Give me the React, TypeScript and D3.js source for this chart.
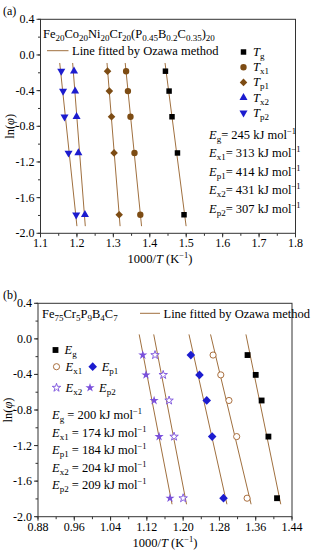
import React from "react";
import * as d3 from "d3";

// ln of heating rate (K/s)
const lnPhi = [-0.182, -0.405, -0.693, -1.099, -1.792];

// panel (a) 1000/T values
const aTg = [1.443, 1.453, 1.461, 1.476, 1.494];
const aTx1 = [1.335, 1.34, 1.347, 1.358, 1.374];
const aTp1 = [1.284, 1.289, 1.295, 1.302, 1.316];
const aTx2 = [1.192, 1.195, 1.199, 1.204, 1.222];
const aTp2 = [1.157, 1.162, 1.166, 1.177, 1.198];
const aEnergies = [245, 313, 414, 431, 307];
const aXTicks = [1.1, 1.2, 1.3, 1.4, 1.5, 1.6, 1.7, 1.8];

// panel (b)
const bEg = [1.342, 1.36, 1.373, 1.388, 1.407];
const bEx1 = [1.266, 1.283, 1.301, 1.318, 1.341];
const bEp1 = [1.217, 1.236, 1.252, 1.264, 1.289];
const bEx2 = [1.138, 1.156, 1.169, 1.18, 1.2];
const bEp2 = [1.111, 1.118, 1.136, 1.147, 1.171];
const bEnergies = [200, 174, 184, 204, 209];
const bXTicks = [0.88, 0.96, 1.04, 1.12, 1.2, 1.28, 1.36, 1.44];

const yTicks = [0.4, 0.0, -0.4, -0.8, -1.2, -1.6, -2.0];
const subs = ["g", "x1", "p1", "x2", "p2"];

const FONT = "'Liberation Serif', 'Times New Roman', serif";
const FIT = "#a0703f";
const BROWN = "#7d4c14";
const BLUE = "#1c1ccf";
const PURPLE = "#7a50dc";

type Mark = { sym: d3.SymbolType; size: number; fill: string; stroke: string; rot?: number; sx?: number };

const fitLine = (xs: number[], ys: number[], y0: number, y1: number) => {
  const mx = d3.mean(xs)!;
  const my = d3.mean(ys)!;
  const b = d3.sum(xs, (x, i) => (x - mx) * (ys[i] - my)) / d3.sum(xs, (x) => (x - mx) ** 2);
  const a = my - b * mx;
  return [
    [(y0 - a) / b, y0],
    [(y1 - a) / b, y1],
  ];
};

const Sym = ({ m, x, y }: { m: Mark; x: number; y: number }) => (
  <path
    d={d3.symbol(m.sym, m.size)()!}
    transform={`translate(${x},${y}) rotate(${m.rot || 0}) scale(${m.sx || 1},1)`}
    fill={m.fill}
    stroke={m.stroke}
    strokeWidth={0.9}
  />
);

const Sub = ({ base, sub, size = 12.5 }: { base: string; sub: string; size?: number }) => (
  <>
    <tspan fontStyle="italic">{base}</tspan>
    <tspan fontSize={size * 0.72} dy={3}>{sub}</tspan>
    <tspan dy={-3}></tspan>
  </>
);

const Energy = ({ x, y, sub, v, gap }: { x: number; y: number; sub: string; v: number; gap: string }) => (
  <text x={x} y={y} fontSize={12.5} fontFamily={FONT}>
    <tspan fontStyle="italic">E</tspan>
    <tspan fontSize={9} dy={3}>{sub}</tspan>
    <tspan dy={-3}>{`${gap}= ${v} kJ mol`}</tspan>
    <tspan fontSize={8.5} dy={-5}>−1</tspan>
  </text>
);

type PanelProps = {
  x0: number; x1: number; y0: number; y1: number;
  xDom: [number, number]; xTicks: number[]; xMinor: number; fmt: (v: number) => string;
  series: number[][]; marks: Mark[]; lineTop: number; lineBot: number;
  labelX: number; labelY: number;
};

const Panel = (p: PanelProps) => {
  const x = d3.scaleLinear().domain(p.xDom).range([p.x0, p.x1]);
  const y = d3.scaleLinear().domain([-2, 0.4]).range([p.y1, p.y0]);
  const minorX = d3.range(p.xDom[0], p.xDom[1] + 1e-9, p.xMinor);
  const minorY = d3.range(-2, 0.4 + 1e-9, 0.2);
  return (
    <g fontFamily={FONT}>
      {minorX.map((t, i) => (
        <line key={"mx" + i} x1={x(t)} x2={x(t)} y1={p.y1} y2={p.y1 + 2.5} stroke="#333" />
      ))}
      {p.xTicks.map((t) => (
        <g key={"x" + t}>
          <line x1={x(t)} x2={x(t)} y1={p.y1} y2={p.y1 + 4} stroke="#333" />
          <text x={x(t)} y={p.y1 + 14} textAnchor="middle" fontSize={12}>{p.fmt(t)}</text>
        </g>
      ))}
      {minorY.map((t, i) => (
        <line key={"my" + i} x1={p.x0 - 2.5} x2={p.x0} y1={y(t)} y2={y(t)} stroke="#333" />
      ))}
      {yTicks.map((t) => (
        <g key={"y" + t}>
          <line x1={p.x0 - 4} x2={p.x0} y1={y(t)} y2={y(t)} stroke="#333" />
          <text x={p.x0 - 6} y={y(t) + 4} textAnchor="end" fontSize={12}>{t.toFixed(1)}</text>
        </g>
      ))}
      <rect x={p.x0} y={p.y0} width={p.x1 - p.x0} height={p.y1 - p.y0} fill="none" stroke="#333" strokeWidth={1} />
      {p.series.map((s, i) => {
        const pts = fitLine(s, lnPhi, p.lineTop, p.lineBot);
        return (
          <line key={"f" + i} x1={x(pts[0][0])} y1={y(pts[0][1])} x2={x(pts[1][0])} y2={y(pts[1][1])} stroke={FIT} strokeWidth={1} />
        );
      })}
      {p.series.map((s, i) =>
        s.map((v, j) => <Sym key={`p${i}-${j}`} m={p.marks[i]} x={x(v)} y={y(lnPhi[j])} />)
      )}
      <text transform={`translate(${p.labelY},${(p.y0 + p.y1) / 2}) rotate(-90)`} textAnchor="middle" fontSize={12.5}>
        ln(<tspan fontStyle="italic">φ</tspan>)
      </text>
      <text x={p.labelX} y={p.y1 + 30} textAnchor="middle" fontSize={12.5}>
        1000/<tspan fontStyle="italic">T</tspan> (K<tspan fontSize={8.5} dy={-5}>−1</tspan><tspan dy={5}>)</tspan>
      </text>
    </g>
  );
};

const aMarks: Mark[] = [
  { sym: d3.symbolSquare, size: 30, fill: "#000", stroke: "none" },
  { sym: d3.symbolCircle, size: 32, fill: BROWN, stroke: "none" },
  { sym: d3.symbolDiamond, size: 17, fill: BROWN, stroke: "none", sx: 1.7 },
  { sym: d3.symbolTriangle, size: 28, fill: BLUE, stroke: "none" },
  { sym: d3.symbolTriangle, size: 28, fill: BLUE, stroke: "none", rot: 180 },
];
const bMarks: Mark[] = [
  { sym: d3.symbolSquare, size: 34, fill: "#000", stroke: "none" },
  { sym: d3.symbolCircle, size: 30, fill: "#fff", stroke: "#a0602a" },
  { sym: d3.symbolDiamond, size: 22, fill: BLUE, stroke: "none", sx: 1.7 },
  { sym: d3.symbolStar, size: 22, fill: "#fff", stroke: PURPLE },
  { sym: d3.symbolStar, size: 26, fill: PURPLE, stroke: "none" },
];

export default function App() {
  return (
    <svg width={311} height={550} style={{ position: "absolute", left: 0, top: 0, background: "#fff" }}>
      <text x={3} y={15} fontSize={12} fontFamily={FONT}>(a)</text>
      <Panel
        x0={40.5} x1={295.5} y0={19.3} y1={233.3}
        xDom={[1.1, 1.8]} xTicks={aXTicks} xMinor={0.05} fmt={(v) => v.toFixed(1)}
        series={[aTg, aTx1, aTp1, aTx2, aTp2]} marks={aMarks} lineTop={-0.09} lineBot={-1.92}
        labelX={160} labelY={14}
      />
      <g fontFamily={FONT}>
        <text x={43} y={37.5} fontSize={12.5}>
          Fe<tspan fontSize={9} dy={3}>20</tspan><tspan dy={-3}>Co</tspan><tspan fontSize={9} dy={3}>20</tspan>
          <tspan dy={-3}>Ni</tspan><tspan fontSize={9} dy={3}>20</tspan><tspan dy={-3}>Cr</tspan>
          <tspan fontSize={9} dy={3}>20</tspan><tspan dy={-3}>(P</tspan><tspan fontSize={9} dy={3}>0.45</tspan>
          <tspan dy={-3}>B</tspan><tspan fontSize={9} dy={3}>0.2</tspan><tspan dy={-3}>C</tspan>
          <tspan fontSize={9} dy={3}>0.35</tspan><tspan dy={-3}>)</tspan><tspan fontSize={9} dy={3}>20</tspan>
        </text>
        <line x1={47} x2={68.5} y1={50.7} y2={50.7} stroke={FIT} />
        <text x={72} y={55} fontSize={12.5}>Line fitted by Ozawa method</text>
        {aMarks.map((m, i) => (
          <g key={"la" + i}>
            <Sym m={m} x={243.5} y={52 + i * 15.2} />
            <text x={253} y={56 + i * 15.2} fontSize={12.5}>
              <Sub base="T" sub={subs[i]} />
            </text>
          </g>
        ))}
        {aEnergies.map((v, i) => (
          <Energy key={"ea" + i} x={209} y={138.5 + i * 18.6} sub={subs[i]} v={v} gap="" />
        ))}
      </g>

      <text x={3} y={299} fontSize={12} fontFamily={FONT}>(b)</text>
      <Panel
        x0={38} x1={292} y0={303.3} y1={516.7}
        xDom={[0.88, 1.44]} xTicks={bXTicks} xMinor={0.04} fmt={(v) => v.toFixed(2)}
        series={[bEg, bEx1, bEp1, bEx2, bEp2]} marks={bMarks} lineTop={0.05} lineBot={-1.86}
        labelX={165} labelY={12}
      />
      <g fontFamily={FONT}>
        <text x={42} y={317.5} fontSize={12.5}>
          Fe<tspan fontSize={9} dy={3}>75</tspan><tspan dy={-3}>Cr</tspan><tspan fontSize={9} dy={3}>5</tspan>
          <tspan dy={-3}>P</tspan><tspan fontSize={9} dy={3}>9</tspan><tspan dy={-3}>B</tspan>
          <tspan fontSize={9} dy={3}>4</tspan><tspan dy={-3}>C</tspan><tspan fontSize={9} dy={3}>7</tspan>
        </text>
        <line x1={140} x2={160} y1={313.3} y2={313.3} stroke={FIT} />
        <text x={163.5} y={317.5} fontSize={12.5}>Line fitted by Ozawa method</text>
        {[
          [0, 55.5, 350],
          [1, 56.5, 366.7],
          [2, 92.7, 366.7],
          [3, 56.5, 387.7],
          [4, 90, 387.7],
        ].map(([i, lx, ly]) => (
          <g key={"lb" + i}>
            <Sym m={bMarks[i]} x={lx} y={ly} />
            <text x={lx + 9} y={ly + 4} fontSize={12.5}>
              <Sub base="E" sub={subs[i]} />
            </text>
          </g>
        ))}
        {bEnergies.map((v, i) => (
          <Energy key={"eb" + i} x={52} y={419 + i * 17.6} sub={subs[i]} v={v} gap=" " />
        ))}
      </g>
    </svg>
  );
}
